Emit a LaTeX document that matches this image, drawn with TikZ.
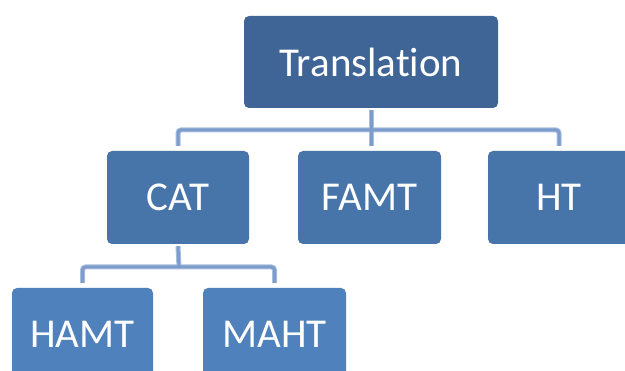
\documentclass[tikz,border=0pt]{standalone}
\usepackage{fontspec}
\setmainfont[Ligatures=NoCommon]{Carlito}
\definecolor{topblue}{HTML}{3F6596}
\definecolor{midblue}{HTML}{4774A9}
\definecolor{lowblue}{HTML}{4F81BD}
\definecolor{linedark}{HTML}{7D9BCB}
\definecolor{linelight}{HTML}{A9BFDF}
\tikzset{
  box/.style={rectangle, rounded corners=5pt, draw=none, text=white,
    font=\fontsize{41}{45}\selectfont, inner sep=0pt},
  connlight/.style={draw=linelight, line width=5pt, rounded corners=3pt},
  conndark/.style={draw=linedark, line width=3pt, rounded corners=3pt},
}
\begin{document}
\begin{tikzpicture}[x=1pt,y=-1pt]
\useasboundingbox (0,0) rectangle (625,371);
\clip (0,0) rectangle (625,371);
\node[box, fill=topblue, minimum width=254pt, minimum height=92pt] (T) at (371,62) {Translation};
\node[box, fill=midblue, minimum width=142pt, minimum height=93pt] (C) at (178,197.5) {CAT};
\node[box, fill=midblue, minimum width=143pt, minimum height=93pt] (F) at (369.5,197.5) {FAMT};
\node[box, fill=midblue, minimum width=142pt, minimum height=93pt] (H) at (559,197.5) {HT};
\node[box, fill=lowblue, minimum width=141pt, minimum height=93pt] (HA) at (82.5,334.5) {HAMT};
\node[box, fill=lowblue, minimum width=143pt, minimum height=93pt] (MA) at (274.5,334.5) {MAHT};
\coordinate (bus1) at (371,130);
\coordinate (bus2) at (179,267);
\foreach \s in {connlight,conndark}{
  \draw[\s] ([yshift=5pt]C.north) -- (C.north |- bus1) -- (H.north |- bus1) -- ([yshift=5pt]H.north);
  \draw[\s] ([yshift=-2pt]T.south) -- ([yshift=5pt]T.south |- F.north);
  \draw[\s] ([yshift=-2pt]C.south) -- (bus2);
  \draw[\s] ([yshift=5pt]HA.north) -- (HA.north |- bus2) -- (MA.north |- bus2) -- ([yshift=5pt]MA.north);
}
\end{tikzpicture}
\end{document}
